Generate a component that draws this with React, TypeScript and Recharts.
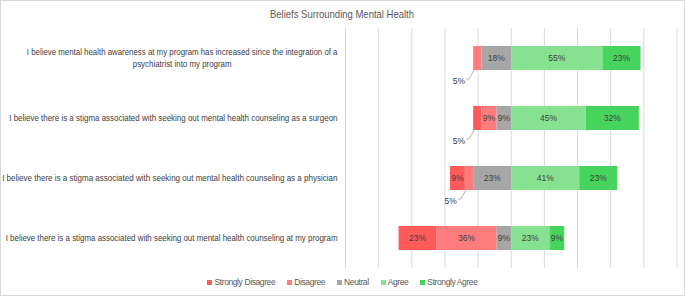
import { BarChart, Bar, XAxis, YAxis, CartesianGrid, Legend, LabelList } from "recharts"

const statements = [
  "I believe mental health awareness at my program has increased since the integration of a psychiatrist into my program",
  "I believe there is a stigma associated with seeking out mental health counseling as a surgeon",
  "I believe there is a stigma associated with seeking out mental health counseling as a physician",
  "I believe there is a stigma associated with seeking out mental health counseling at my program",
]
const stronglyDisagree = [0, 5, 9, 23]
const disagree = [5, 9, 5, 36]
const neutral = [18, 9, 23, 9]
const agree = [55, 45, 41, 23]
const stronglyAgree = [23, 32, 23, 9]
const xTicks = [-100, -80, -60, -40, -20, 0, 20, 40, 60, 80, 100]

const legendItems = [
  { name: "Strongly Disagree", color: "#FF5B5B" },
  { name: "Disagree", color: "#FF7C7C" },
  { name: "Neutral", color: "#A6A6A6" },
  { name: "Agree", color: "#86E291" },
  { name: "Strongly Agree", color: "#47D45C" },
]

// negatives stack outward from zero: neutral first, then disagree, then strongly disagree
const data = statements.map((statement, i) => ({
  statement,
  neutral: -neutral[i],
  disagree: -disagree[i],
  stronglyDisagree: -stronglyDisagree[i],
  agree: agree[i],
  stronglyAgree: stronglyAgree[i],
}))

const FONT = "'Liberation Sans', Arial, sans-serif"
const CHAR_W = 3.53 // the source uses a narrow font, squeeze the fallback to match

function wrap(text: string, maxChars: number) {
  const lines: string[] = []
  let line = ""
  for (const w of text.split(" ")) {
    const next = line ? line + " " + w : w
    if (next.length > maxChars && line) {
      lines.push(line)
      line = w
    } else {
      line = next
    }
  }
  if (line) lines.push(line)
  return lines
}

function StatementTick(props: any) {
  const { x, y, payload } = props
  const lines = wrap(payload.value, 96)
  const longest = Math.max(...lines.map((l) => l.length))
  const cx = x - (longest * CHAR_W) / 2
  const top = y + 3.2 - ((lines.length - 1) * 11.7) / 2
  return (
    <g>
      {lines.map((l, i) => (
        <text
          key={i}
          x={lines.length === 1 ? x : cx}
          y={top + i * 11.7}
          textAnchor={lines.length === 1 ? "end" : "middle"}
          fontSize={9}
          fill="#404040"
          fontFamily={FONT}
          textLength={l.length * CHAR_W}
          lengthAdjust="spacingAndGlyphs"
        >
          {l}
        </text>
      ))}
    </g>
  )
}

function SegmentLabel(props: any) {
  const { x, y, width, height, value } = props
  const v = Math.abs(Number(value))
  if (!v) return null
  const left = Math.min(x, x + width)
  const w = Math.abs(width)
  if (v <= 5) {
    const by = y + height
    return (
      <g>
        <polyline
          points={`${left + 1},${by} ${left - 4},${by + 9} ${left - 7},${by + 9}`}
          fill="none"
          stroke="#A6A6A6"
          strokeWidth={0.8}
        />
        <text x={left - 8} y={by + 10.5} dy={3} textAnchor="end" fontSize={8.5} fill="#404040" fontFamily={FONT}>
          {v}%
        </text>
      </g>
    )
  }
  return (
    <text x={left + w / 2} y={y + height / 2} dy={3} textAnchor="middle" fontSize={8.5} fill="#404040" fontFamily={FONT}>
      {v}%
    </text>
  )
}

function LegendContent() {
  return (
    <div
      style={{
        display: "flex",
        justifyContent: "center",
        gap: 12,
        paddingTop: 9,
        paddingLeft: 8,
        fontFamily: FONT,
        fontSize: 8.5,
        letterSpacing: -0.4,
        color: "#595959",
      }}
    >
      {legendItems.map((it) => (
        <div key={it.name} style={{ display: "flex", alignItems: "center", gap: 2 }}>
          <span style={{ width: 5, height: 5, background: it.color, display: "inline-block" }} />
          <span>{it.name}</span>
        </div>
      ))}
    </div>
  )
}

export default function App() {
  return (
    <div
      style={{
        position: "fixed",
        left: 0,
        top: 0,
        width: 685,
        height: 296,
        background: "#fff",
        boxShadow: "inset 0 0 0 1px #D9D9D9",
      }}
    >
      <svg width={685} height={24} style={{ position: "absolute", left: 0, top: 0 }}>
        <text
          x={342}
          y={17.5}
          textAnchor="middle"
          fontFamily={FONT}
          fontSize={11.5}
          fill="#595959"
          textLength={144}
          lengthAdjust="spacingAndGlyphs"
        >
          Beliefs Surrounding Mental Health
        </text>
      </svg>
      <BarChart
        width={685}
        height={296}
        data={data}
        layout="vertical"
        stackOffset="sign"
        barSize={24}
        margin={{ top: 28, right: 8, left: 0, bottom: 8 }}
      >
        <CartesianGrid horizontal={false} stroke="#D9D9D9" />
        <XAxis type="number" domain={[-100, 100]} ticks={xTicks} hide />
        <YAxis
          type="category"
          dataKey="statement"
          width={345.5}
          axisLine={false}
          tickLine={false}
          interval={0}
          tick={<StatementTick />}
        />
        <Legend verticalAlign="bottom" height={20} content={<LegendContent />} />
        <Bar dataKey="neutral" stackId="a" fill="#A6A6A6" isAnimationActive={false}>
          <LabelList dataKey="neutral" content={<SegmentLabel />} />
        </Bar>
        <Bar dataKey="disagree" stackId="a" fill="#FF7C7C" isAnimationActive={false}>
          <LabelList dataKey="disagree" content={<SegmentLabel />} />
        </Bar>
        <Bar dataKey="stronglyDisagree" stackId="a" fill="#FF5B5B" isAnimationActive={false}>
          <LabelList dataKey="stronglyDisagree" content={<SegmentLabel />} />
        </Bar>
        <Bar dataKey="agree" stackId="a" fill="#86E291" isAnimationActive={false}>
          <LabelList dataKey="agree" content={<SegmentLabel />} />
        </Bar>
        <Bar dataKey="stronglyAgree" stackId="a" fill="#47D45C" isAnimationActive={false}>
          <LabelList dataKey="stronglyAgree" content={<SegmentLabel />} />
        </Bar>
      </BarChart>
    </div>
  )
}
